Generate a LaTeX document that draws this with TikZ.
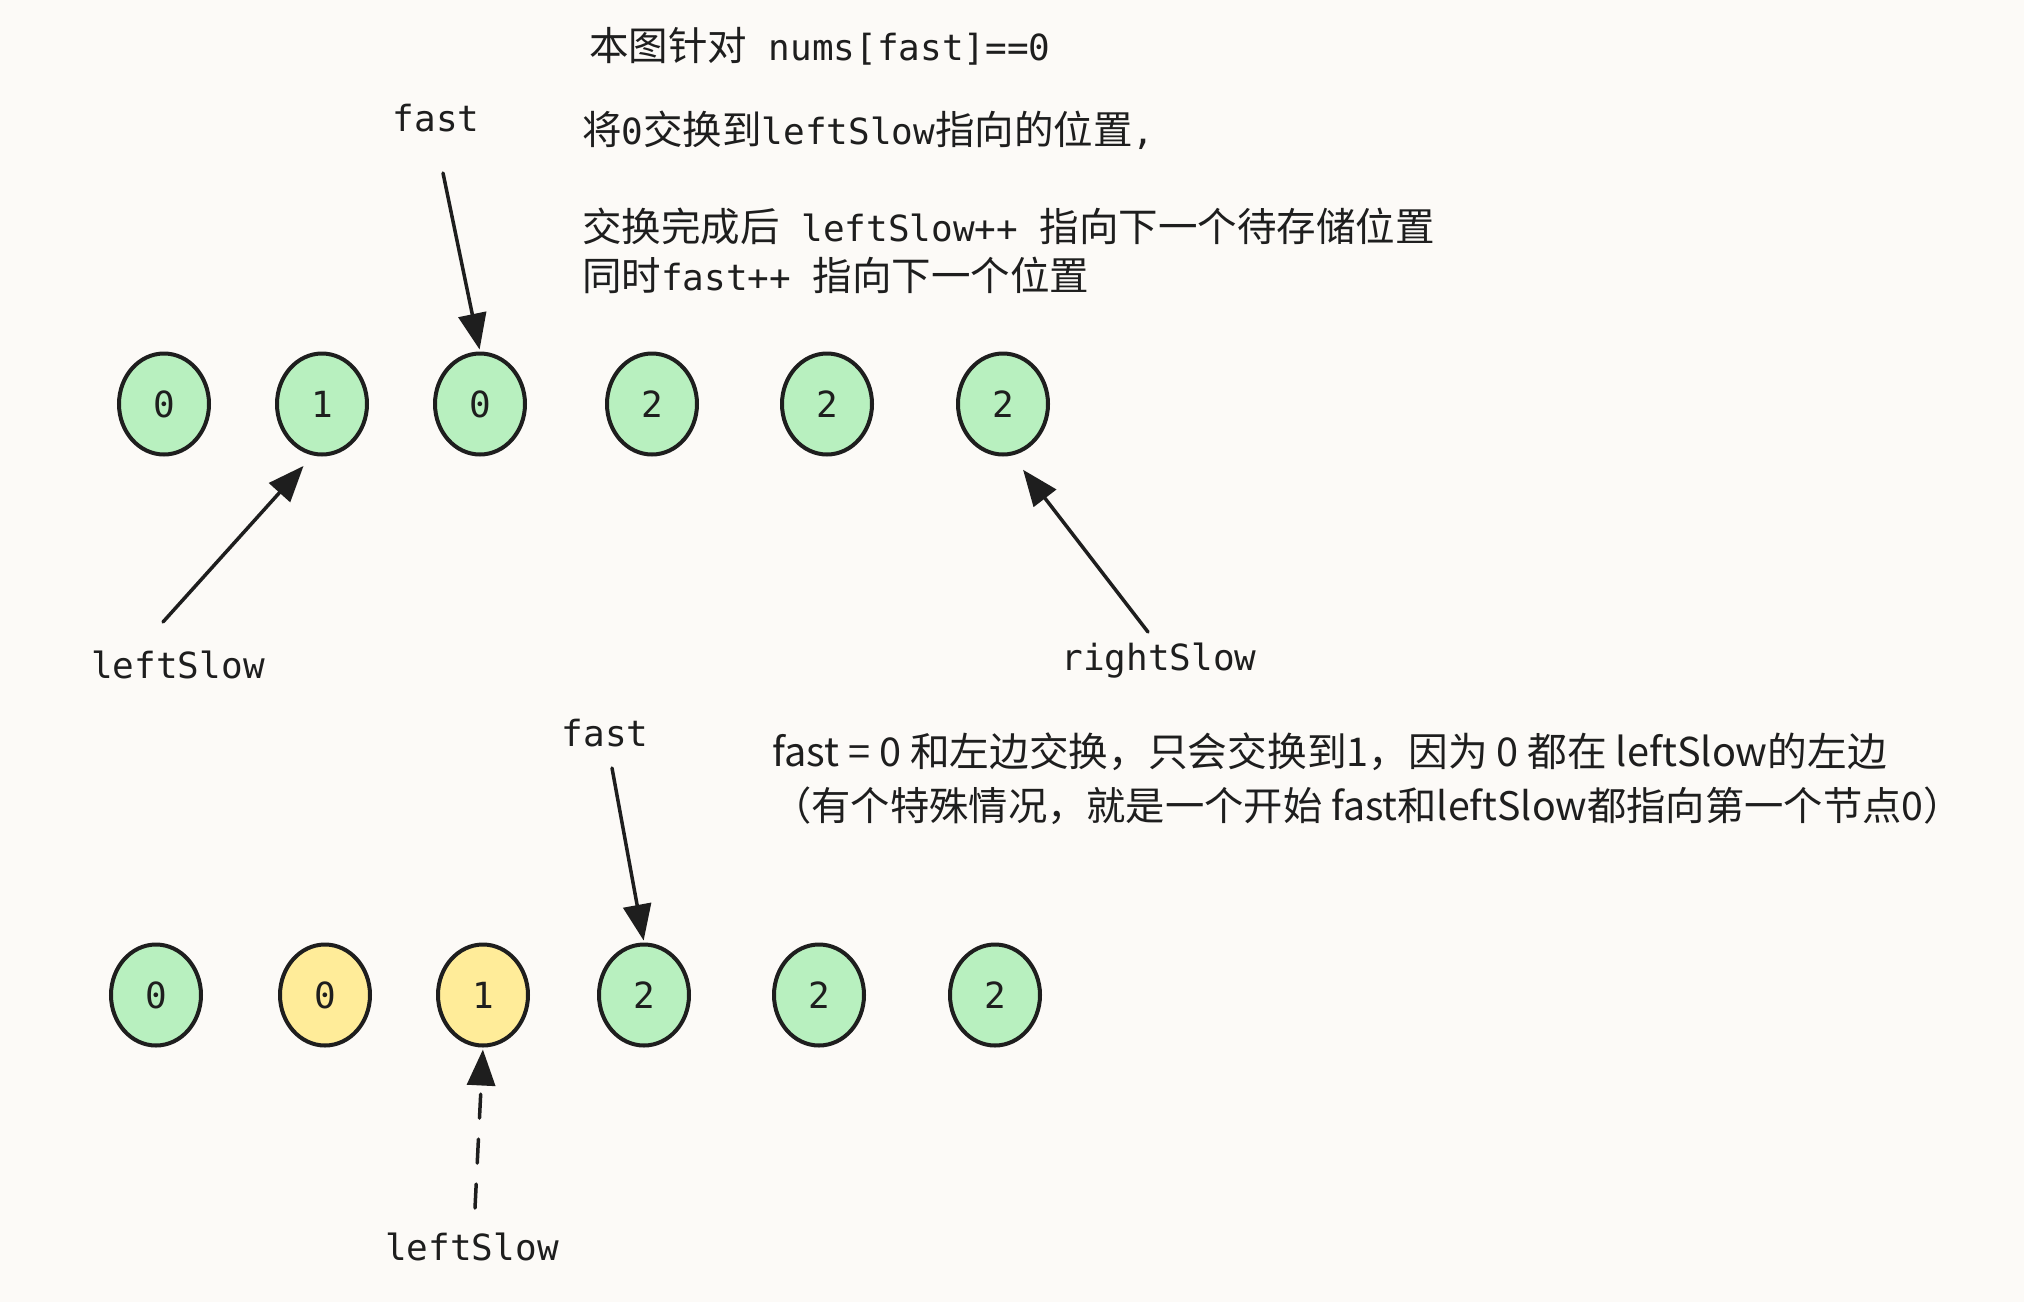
\documentclass[tikz,border=0pt]{standalone}
\usepackage{fontspec}
\setmainfont{Noto Sans CJK SC}
\newfontfamily\cjk{Noto Sans CJK SC}
\newfontfamily\mono{DejaVu Sans Mono}
\usetikzlibrary{arrows.meta,shapes.geometric}
\definecolor{bg}{HTML}{FCFAF7}
\definecolor{ink}{HTML}{1E1E1E}
\definecolor{gfill}{HTML}{B8F0BF}
\definecolor{yfill}{HTML}{FFEC99}
\newcommand\cjkbig{\cjk\fontsize{39.5}{47}\selectfont}
\tikzset{
  mtext/.style={font=\mono\fontsize{36}{43}\selectfont, text=ink, inner sep=0pt, anchor=base west},
  mlabel/.style={font=\mono\fontsize{36}{43}\selectfont, text=ink, inner sep=0pt, anchor=base},
  stext/.style={font=\cjk\fontsize{39.7}{46}\selectfont, text=ink, inner sep=0pt, anchor=base west},
  cell/.style={ellipse, draw=ink, line width=4pt, minimum width=90pt, minimum height=101pt, inner sep=0pt,
     font=\mono\fontsize{36}{43}\selectfont, text=ink},
  gcell/.style={cell, fill=gfill},
  ycell/.style={cell, fill=yfill},
  arr/.style={draw=ink, line width=3.5pt, line cap=round, -{Triangle[length=36pt,width=28pt]}},
}
\begin{document}
\begin{tikzpicture}[x=1pt,y=-1pt]
\useasboundingbox (0,0) rectangle (2024,1302);
\fill[bg] (0,0) rectangle (2024,1302);

% top texts
\node[mtext] (title) at (589,60) {{\cjkbig 本图针对} nums[fast]==0};
\node[mtext] (l1) at (582,144) {{\cjkbig 将}0{\cjkbig 交换到}leftSlow{\cjkbig 指向的位置},};
\node[mtext] (l2) at (582,241) {{\cjkbig 交换完成后} leftSlow++ {\cjkbig 指向下一个待存储位置}};
\node[mtext] (l3) at (582,290) {{\cjkbig 同时}fast++ {\cjkbig 指向下一个位置}};

% top row
\node[gcell] (a1) at (164,404) {0};
\node[gcell] (a2) at (322,404) {1};
\node[gcell] (a3) at (480,404) {0};
\node[gcell] (a4) at (652,404) {2};
\node[gcell] (a5) at (827,404) {2};
\node[gcell] (a6) at (1003,404) {2};

\node[mlabel] (fastA) at (436,131) {fast};
\node[mlabel] (lsA) at (178,678) {leftSlow};
\node[mlabel] (rsA) at (1159,670) {rightSlow};

\coordinate (tfA) at (443,173);
\coordinate (tlA) at (163,622);
\coordinate (trA) at (1148,632);
\draw[arr, shorten >=2pt] (tfA) -- (a3.north);
\draw[arr, shorten >=14pt] (tlA) -- (a2.-100);
\draw[arr, shorten >=18pt] (trA) -- (a6.-80);

% bottom texts
\node[stext] (s1) at (772,766) {fast = 0 和左边交换，只会交换到1，因为 0 都在 leftSlow的左边};
\node[stext, font=\cjk\fontsize{39.3}{46}\selectfont] (s2) at (772,820) {（有个特殊情况，就是一个开始 fast和leftSlow都指向第一个节点0）};

% bottom row
\node[gcell] (b1) at (156,995) {0};
\node[ycell] (b2) at (325,995) {0};
\node[ycell] (b3) at (483,995) {1};
\node[gcell] (b4) at (644,995) {2};
\node[gcell] (b5) at (819,995) {2};
\node[gcell] (b6) at (995,995) {2};

\node[mlabel] (fastB) at (605,746) {fast};
\node[mlabel] (lsB) at (472,1260) {leftSlow};

\coordinate (tfB) at (612,768);
\coordinate (tlB) at (475,1208);
\draw[arr, shorten >=2pt] (tfB) -- (b4.north);
\draw[arr, shorten >=2pt, dash pattern=on 24pt off 21pt] (tlB) -- (b3.south);
\end{tikzpicture}
\end{document}
